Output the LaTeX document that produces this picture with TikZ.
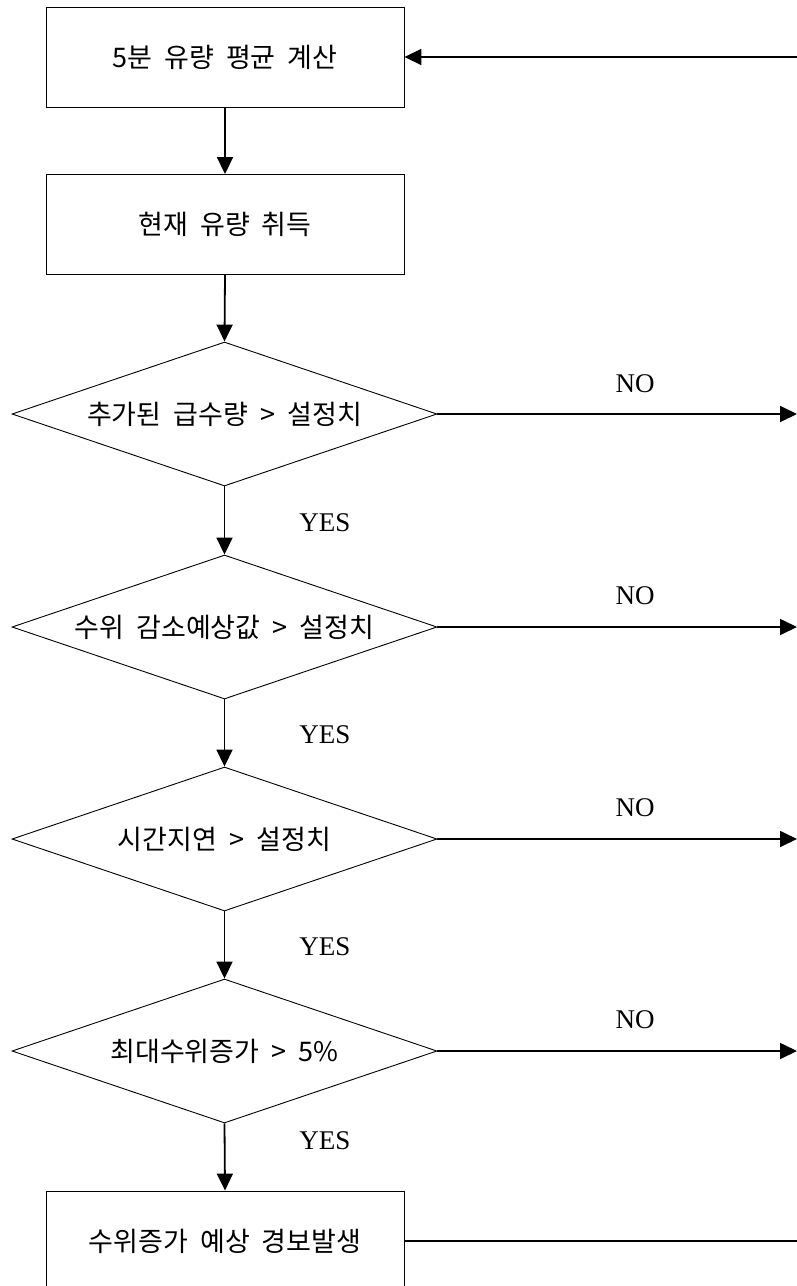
\documentclass[tikz,border=0pt]{standalone}
\usepackage{fontspec}
\setmainfont{Liberation Serif}
\newfontfamily\kr{Noto Sans CJK KR}[WordSpace=2.0]
\usetikzlibrary{shapes.geometric,arrows.meta}
\begin{document}
\begin{tikzpicture}[x=1pt,y=-1pt,
  proc/.style={draw, line width=0.9pt, minimum width=358pt, minimum height=100pt, inner sep=0pt, font=\kr\fontsize{27pt}{32pt}\selectfont},
  dec/.style={draw, diamond, line width=0.9pt, aspect=2.95, minimum width=425pt, minimum height=144pt, inner sep=0pt, font=\kr\fontsize{27pt}{32pt}\selectfont},
  conn/.style={line width=1.8pt, -{Triangle[length=17pt,width=16pt]}},
  plain/.style={line width=1.8pt},
  lbl/.style={font=\fontsize{27pt}{32pt}\selectfont, inner sep=0pt}]
\useasboundingbox (0,0) rectangle (797,1286);
\fill[white] (0,0) rectangle (797,1286);

\node[proc] (b1) at (225,57) {5분 유량 평균 계산};
\node[proc] (b2) at (225,224.5) {현재 유량 취득};
\node[dec] (d1) at (224.5,414) {추가된 급수량 > 설정치};
\node[dec] (d2) at (224.5,627) {수위 감소예상값 > 설정치};
\node[dec] (d3) at (224.5,839) {시간지연 > 설정치};
\node[dec] (d4) at (224.5,1051) {최대수위증가 > 5\%};
\node[proc] (b5) at (225,1241) {수위증가 예상 경보발생};

\coordinate (r0) at (797,57);
\coordinate (r1) at (797,414);
\coordinate (r2) at (797,627);
\coordinate (r3) at (797,839);
\coordinate (r4) at (797,1051);
\coordinate (r5) at (797,1241);

\draw[conn] (r0) -- (b1.east);
\draw[conn] (b1.south) -- (b2.north);
\draw[conn] (b2.south) -- (d1.north);
\draw[conn] (d1.south) -- (d2.north);
\draw[conn] (d2.south) -- (d3.north);
\draw[conn] (d3.south) -- (d4.north);
\draw[conn] (d4.south) -- (b5.north);

\draw[conn] (d1.east) -- (r1);
\draw[conn] (d2.east) -- (r2);
\draw[conn] (d3.east) -- (r3);
\draw[conn] (d4.east) -- (r4);
\draw[plain] (b5.east) -- (r5);

\node[lbl] (n1) at (635,384) {NO};
\node[lbl] (n2) at (635,596) {NO};
\node[lbl] (n3) at (635,808) {NO};
\node[lbl] (n4) at (635,1020) {NO};

\node[lbl] (y1) at (325,523) {YES};
\node[lbl] (y2) at (325,735) {YES};
\node[lbl] (y3) at (325,947) {YES};
\node[lbl] (y4) at (325,1141) {YES};
\end{tikzpicture}
\end{document}
